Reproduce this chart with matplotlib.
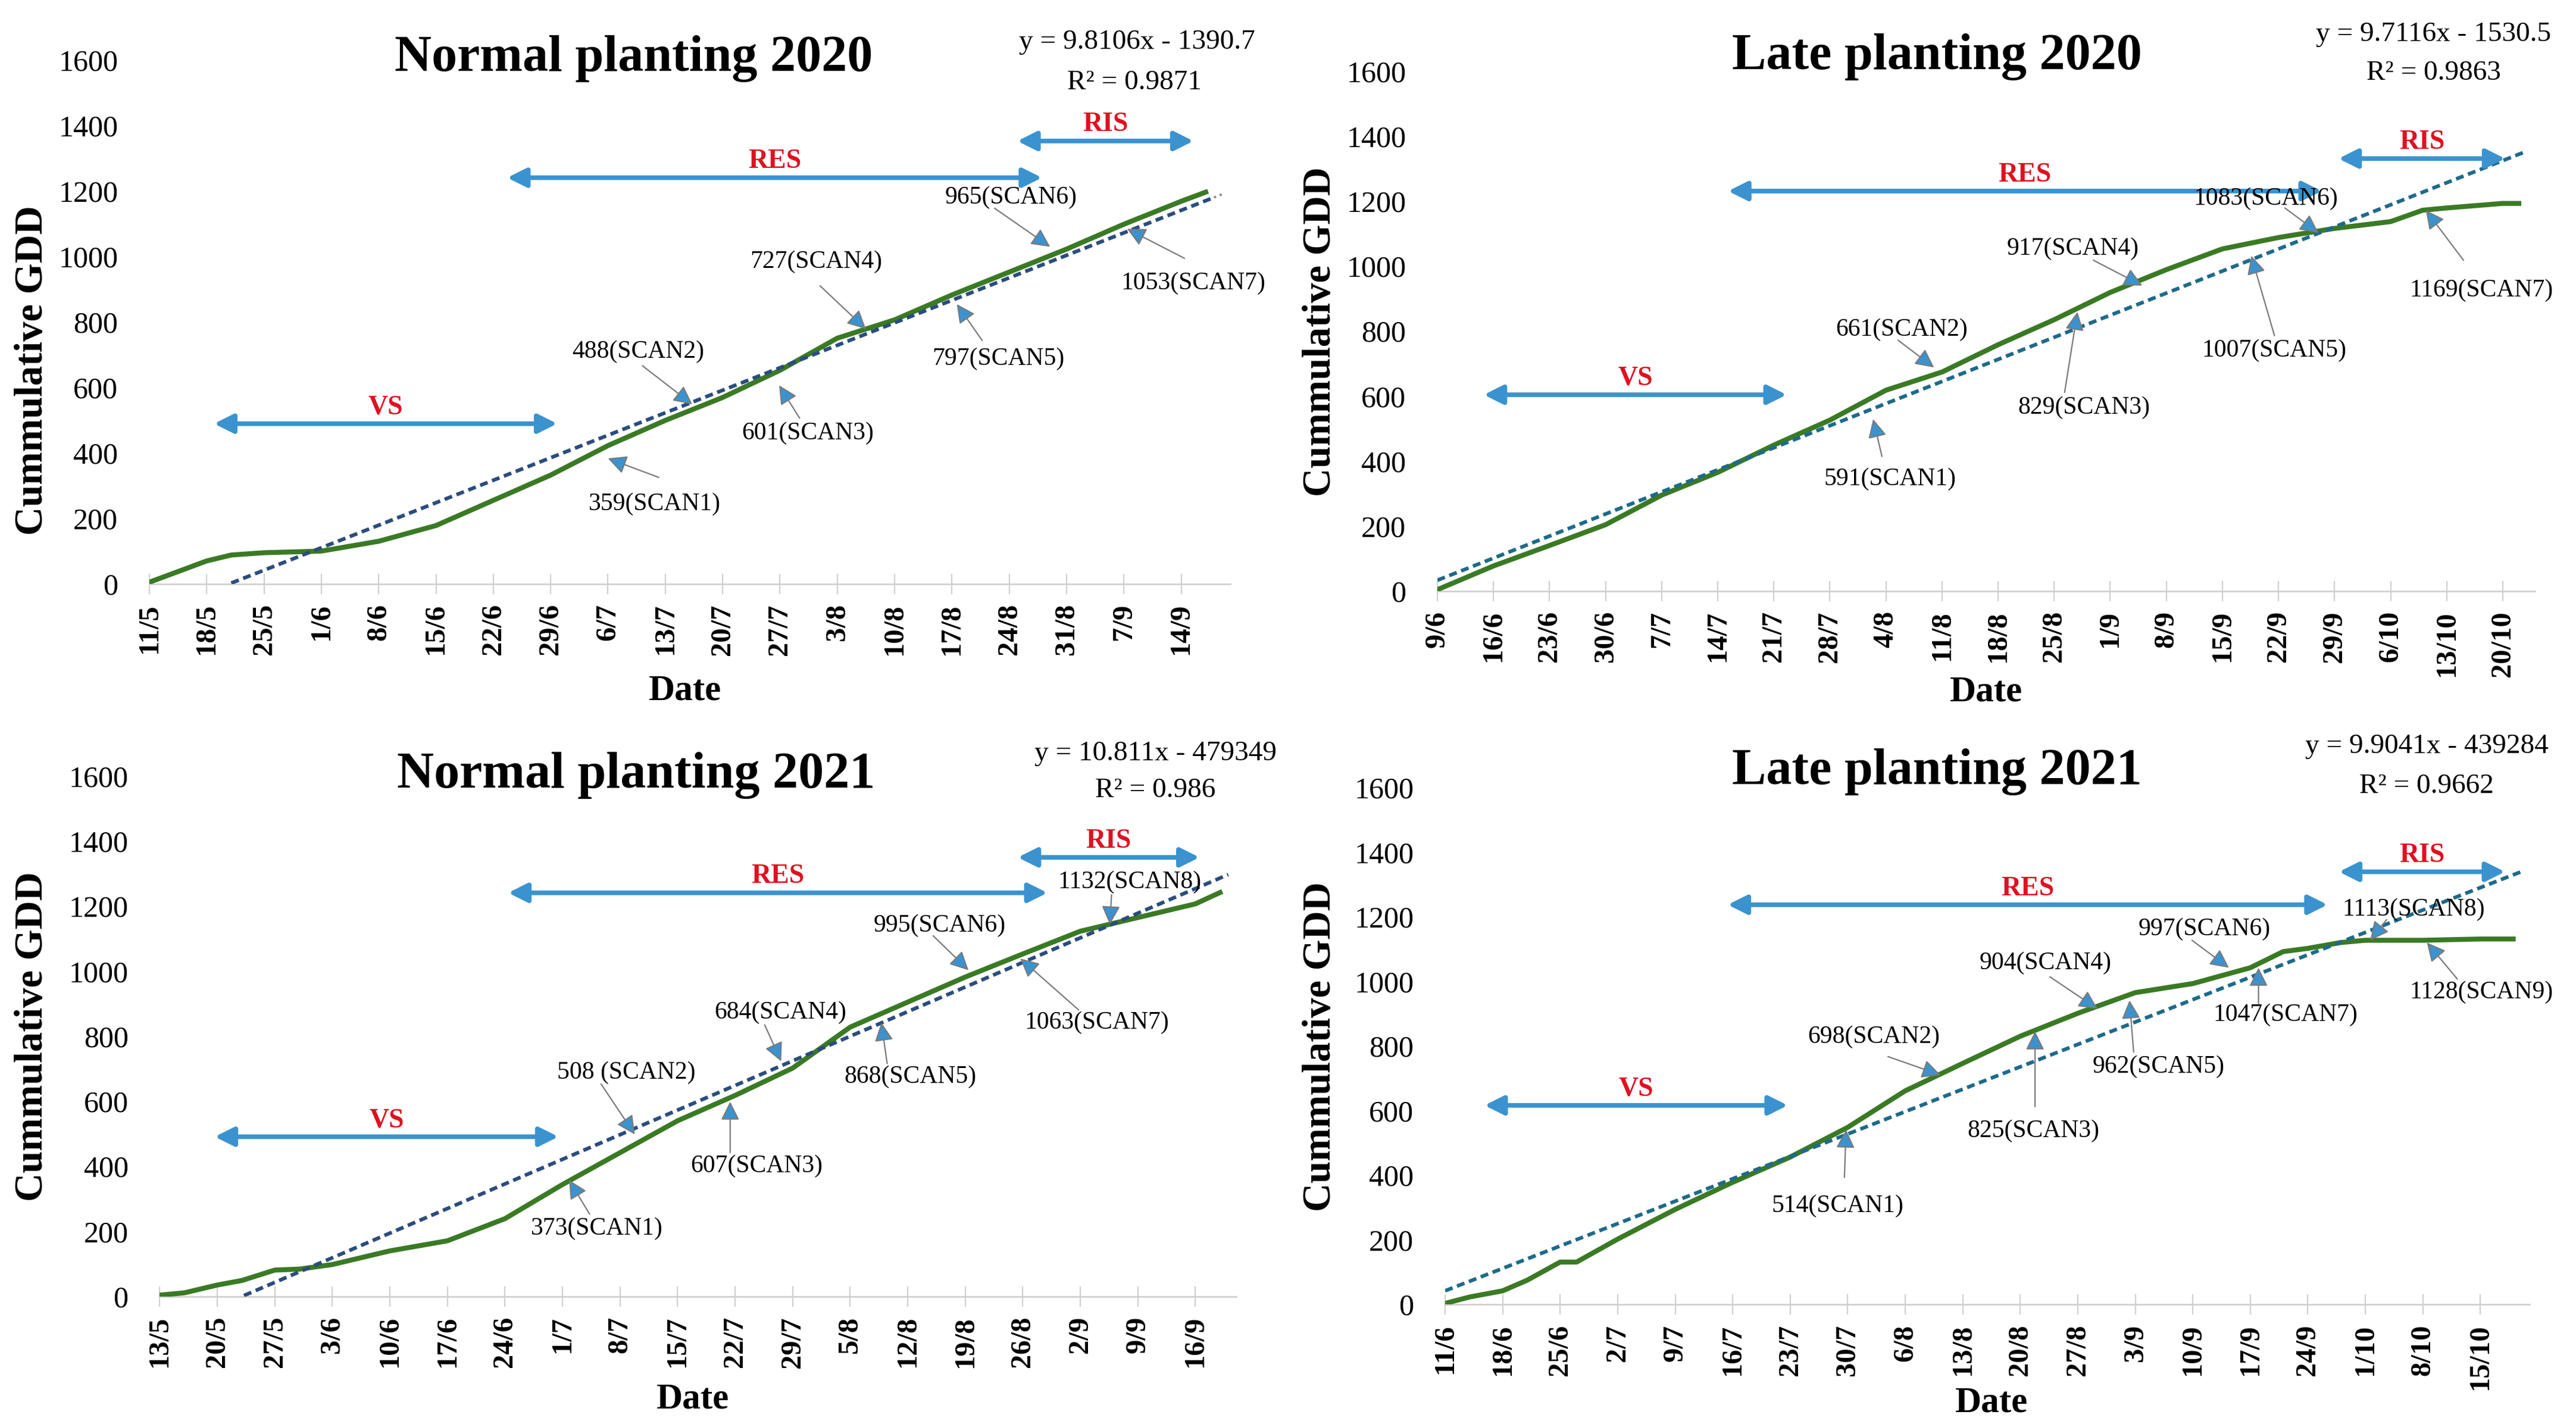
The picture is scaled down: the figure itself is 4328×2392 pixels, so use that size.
import matplotlib
matplotlib.use('Agg')
import matplotlib.pyplot as plt
import pandas as pd

plt.rcParams['font.family'] = ['Liberation Serif', 'DejaVu Serif']

# ---- data ----
titles = ['Normal planting 2020', 'Late planting 2020', 'Normal planting 2021', 'Late planting 2021']
years = [2020, 2020, 2021, 2021]

np20_dates = ['11/5', '18/5', '21/5', '25/5', '1/6', '8/6', '15/6', '22/6', '29/6', '6/7', '13/7',
              '20/7', '27/7', '3/8', '10/8', '17/8', '24/8', '31/8', '7/9', '14/9', '17/9']
np20_gdd = [5, 70, 88, 95, 100, 130, 178, 255, 332, 422, 499, 569, 652, 750, 806, 882, 952,
            1022, 1098, 1168, 1196]

lp20_dates = ['9/6', '16/6', '23/6', '30/6', '7/7', '14/7', '21/7', '28/7', '4/8', '11/8', '18/8',
              '25/8', '1/9', '8/9', '15/9', '22/9', '29/9', '6/10', '10/10', '13/10', '20/10', '22/10']
lp20_gdd = [4, 77, 140, 204, 295, 365, 449, 526, 618, 674, 758, 835, 919, 989, 1053, 1088, 1116,
            1137, 1172, 1179, 1193, 1193]

np21_dates = ['13/5', '16/5', '20/5', '23/5', '27/5', '30/5', '3/6', '10/6', '17/6', '24/6', '1/7',
              '8/7', '15/7', '22/7', '29/7', '5/8', '12/8', '19/8', '26/8', '2/9', '9/9', '16/9', '19/9']
np21_gdd = [4, 11, 35, 49, 81, 84, 98, 140, 171, 239, 344, 442, 540, 618, 702, 828, 905, 982,
            1053, 1123, 1165, 1207, 1242]

lp21_dates = ['11/6', '14/6', '18/6', '21/6', '25/6', '27/6', '2/7', '9/7', '16/7', '23/7', '30/7',
              '6/8', '13/8', '20/8', '27/8', '3/9', '10/9', '17/9', '21/9', '24/9', '28/9', '1/10',
              '8/10', '15/10', '19/10']
lp21_gdd = [3, 23, 42, 75, 131, 131, 202, 294, 378, 456, 548, 661, 746, 830, 901, 965, 993, 1042,
            1092, 1102, 1120, 1127, 1127, 1131, 1131]

# trendline equations as printed (x = day of year for 2020, excel serial for 2021)
slopes = [9.8106, 9.7116, 10.811, 9.9041]
intercepts = [-1390.7, -1530.5, -479349, -439284]
x_modes = ['doy', 'doy', 'excel', 'excel']
eq_text = ['y = 9.8106x - 1390.7', 'y = 9.7116x - 1530.5', 'y = 10.811x - 479349', 'y = 9.9041x - 439284']
r2_text = ['R² = 0.9871', 'R² = 0.9863', 'R² = 0.986', 'R² = 0.9662']

axis_end = ['20/9', '24/10', '21/9', '21/10']

# stage arrows: (label, start offset, end offset, y) offsets in days from first date
stages = [
    [('VS', 7.9, 49.8, 489), ('RES', 43.7, 109, 1240), ('RIS', 106, 127.5, 1352)],
    [('VS', 5.8, 43.6, 604), ('RES', 36.3, 110.4, 1231), ('RIS', 112.5, 133.3, 1331)],
    [('VS', 6.7, 48.5, 491), ('RES', 42.4, 108, 1241), ('RIS', 104.4, 126.5, 1350)],
    [('VS', 4.8, 41.7, 616), ('RES', 34.4, 107.4, 1237), ('RIS', 108.8, 129, 1339)],
]

# scan labels: (text, text x, text y, tail x, tail y, tip x, tip y)
scans = [
    [('359(SCAN1)', 61.7, 244, 62.2, 325, 56, 383),
     ('488(SCAN2)', 59.7, 708, 60.2, 666, 66.3, 548),
     ('601(SCAN3)', 80.4, 460, 79.4, 506, 76.9, 606),
     ('727(SCAN4)', 81.4, 983, 81.9, 910, 87.5, 778),
     ('797(SCAN5)', 103.7, 687, 101.7, 743, 98.6, 854),
     ('965(SCAN6)', 105.2, 1179, 103.2, 1147, 110, 1029),
     ('1053(SCAN7)', 127.5, 917, 126.4, 994, 119.4, 1084)],
    [('591(SCAN1)', 56.5, 344, 55.5, 414, 54.4, 529),
     ('661(SCAN2)', 58, 804, 57.5, 772, 62, 688),
     ('829(SCAN3)', 80.7, 564, 78.3, 611, 79.9, 859),
     ('917(SCAN4)', 79.3, 1053, 81.9, 1018, 88, 940),
     ('1007(SCAN5)', 104.5, 741, 104.5, 786, 101.6, 1032),
     ('1083(SCAN6)', 103.4, 1207, 105.8, 1179, 110, 1102),
     ('1169(SCAN7)', 130.3, 925, 128.1, 1018, 123.4, 1172)],
    [('373(SCAN1)', 53.2, 208, 52.3, 253, 49.8, 358),
     ('508 (SCAN2)', 56.8, 688, 53.7, 653, 57.8, 498),
     ('607(SCAN3)', 72.6, 400, 69.4, 442, 69.4, 599),
     ('684(SCAN4)', 75.5, 873, 73.6, 835, 75.6, 723),
     ('868(SCAN5)', 91.3, 676, 88.5, 716, 87.8, 842),
     ('995(SCAN6)', 94.9, 1141, 94.1, 1109, 98.4, 1003),
     ('1063(SCAN7)', 114, 842, 111.8, 881, 104.7, 1039),
     ('1132(SCAN8)', 118, 1274, 115.8, 1235, 115.6, 1144)],
    [('514(SCAN1)', 47.8, 304, 48.6, 393, 48.8, 541),
     ('698(SCAN2)', 52.2, 828, 53.9, 767, 60.3, 710),
     ('825(SCAN3)', 71.6, 537, 71.8, 612, 71.8, 845),
     ('904(SCAN4)', 73.1, 1056, 73.6, 1014, 79.4, 915),
     ('962(SCAN5)', 86.8, 736, 83.8, 781, 83.3, 941),
     ('997(SCAN6)', 92.4, 1162, 90.9, 1127, 95.4, 1042),
     ('1047(SCAN7)', 102.3, 897, 99, 929, 99, 1042),
     ('1113(SCAN8)', 117.9, 1222, 114.6, 1191, 112.6, 1127),
     ('1128(SCAN9)', 126.1, 967, 123.2, 1007, 119.5, 1120)],
]

all_dates = [np20_dates, lp20_dates, np21_dates, lp21_dates]
all_gdd = [np20_gdd, lp20_gdd, np21_gdd, lp21_gdd]

# ---- layout ----
boxes = [[0.058, 0.590, 0.4196, 0.368],
         [0.558, 0.585, 0.426, 0.365],
         [0.062, 0.0896, 0.418, 0.3654],
         [0.561, 0.084, 0.421, 0.363]]
title_xy = [(0.246, 0.959), (0.752, 0.960), (0.247, 0.4553), (0.752, 0.458)]
eq_xy = [(0.4415, 0.9705), (0.9447, 0.976), (0.4485, 0.471), (0.942, 0.476)]
r2_xy = [(0.4404, 0.942), (0.9447, 0.9487), (0.4485, 0.445), (0.942, 0.4478)]
ylab_xy = [(0.0125, 0.74), (0.5125, 0.767), (0.0125, 0.272), (0.5125, 0.265)]
xlab_xy = [(0.266, 0.515), (0.771, 0.514), (0.269, 0.0173), (0.773, 0.015)]

green = '#3A7A24'
arrow_blue = '#3A93CF'
trend_cols = ['#2B4C7E', '#1E6A8A', '#2B4C7E', '#1E6A8A']


def to_date(s, year):
    d, m = s.split('/')
    return pd.Timestamp(year=year, month=int(m), day=int(d))


def trend_x(dts, mode):
    if mode == 'doy':
        return dts.dayofyear + dts.hour / 24.0
    return (dts - pd.Timestamp('1899-12-30')).days + dts.hour / 24.0


fig = plt.figure(figsize=(21.64, 11.96), dpi=200)

for i in range(4):
    yr = years[i]
    dates = [to_date(s, yr) for s in all_dates[i]]
    start = dates[0]
    xend = to_date(axis_end[i], yr)
    ax = fig.add_axes(boxes[i])

    ax.plot(dates, all_gdd[i], color=green, lw=3.0, zorder=3)

    # trendline from printed equation
    tdates = pd.date_range(start, dates[-1] + pd.Timedelta(days=1), freq='6h')
    ty = slopes[i] * trend_x(tdates, x_modes[i]) + intercepts[i]
    keep = ty >= 0
    ax.plot(tdates[keep], ty[keep], color=trend_cols[i], lw=2.2, ls=(0, (2.2, 1.3)), zorder=4)
    # short forecast tail
    fdates = pd.date_range(dates[-1] + pd.Timedelta(days=1), xend - pd.Timedelta(days=1), freq='6h')
    ax.plot(fdates, slopes[i] * trend_x(fdates, x_modes[i]) + intercepts[i], color='#8C8C8C',
            lw=1.4, ls=':', zorder=4)

    # stage arrows
    for lab, s0, s1, yy in stages[i]:
        x0 = start + pd.Timedelta(days=s0)
        x1 = start + pd.Timedelta(days=s1)
        ax.annotate('', xy=(x1, yy), xytext=(x0, yy),
                    arrowprops=dict(arrowstyle='<|-|>', color=arrow_blue, lw=2.8,
                                    mutation_scale=24, shrinkA=0, shrinkB=0), zorder=5)
        xm = start + pd.Timedelta(days=(s0 + s1) / 2)
        ax.text(xm, yy + 50, lab, color='#E01020', fontsize=16.5, fontweight='bold',
                ha='center', va='center', zorder=6)

    # scan labels
    for lab, tx_, ty_, ax_, ay_, px_, py_ in scans[i]:
        ax.text(start + pd.Timedelta(days=tx_), ty_, lab, fontsize=15, ha='center', va='center',
                zorder=6)
        ax.annotate('', xy=(start + pd.Timedelta(days=px_), py_),
                    xytext=(start + pd.Timedelta(days=ax_), ay_),
                    arrowprops=dict(arrowstyle='-|>', fc=arrow_blue, ec='#7A7A7A', lw=0.8,
                                    mutation_scale=24, shrinkA=0, shrinkB=0), zorder=6)

    ax.set_xlim(start, xend)
    ax.set_ylim(0, 1600)
    ticks = pd.date_range(start, xend, freq='7D')
    ax.set_xticks(ticks)
    ax.set_xticklabels([f'{t.day}/{t.month}' for t in ticks], rotation=90, fontsize=17.5,
                       fontweight='bold')
    ax.set_yticks(range(0, 1601, 200))
    ax.set_yticklabels([str(v) for v in range(0, 1601, 200)], fontsize=18)
    ax.tick_params(axis='y', length=0, pad=19)
    ax.tick_params(axis='x', direction='inout', length=12, width=0.8, color='#D0D0D0', pad=6)
    for sp in ['top', 'right', 'left']:
        ax.spines[sp].set_visible(False)
    ax.spines['bottom'].set_color('#D0D0D0')
    ax.spines['bottom'].set_linewidth(1.0)
    ax.patch.set_alpha(0)

    fig.text(*title_xy[i], titles[i], fontsize=31, fontweight='bold', ha='center', va='center')
    fig.text(*eq_xy[i], eq_text[i], fontsize=17, ha='center', va='center')
    fig.text(*r2_xy[i], r2_text[i], fontsize=17, ha='center', va='center')
    fig.text(*ylab_xy[i], 'Cummulative GDD', fontsize=24, fontweight='bold', rotation=90,
             ha='center', va='center')
    fig.text(*xlab_xy[i], 'Date', fontsize=22, fontweight='bold', ha='center', va='center')

fig.savefig('out.png', dpi=200, facecolor='white')
